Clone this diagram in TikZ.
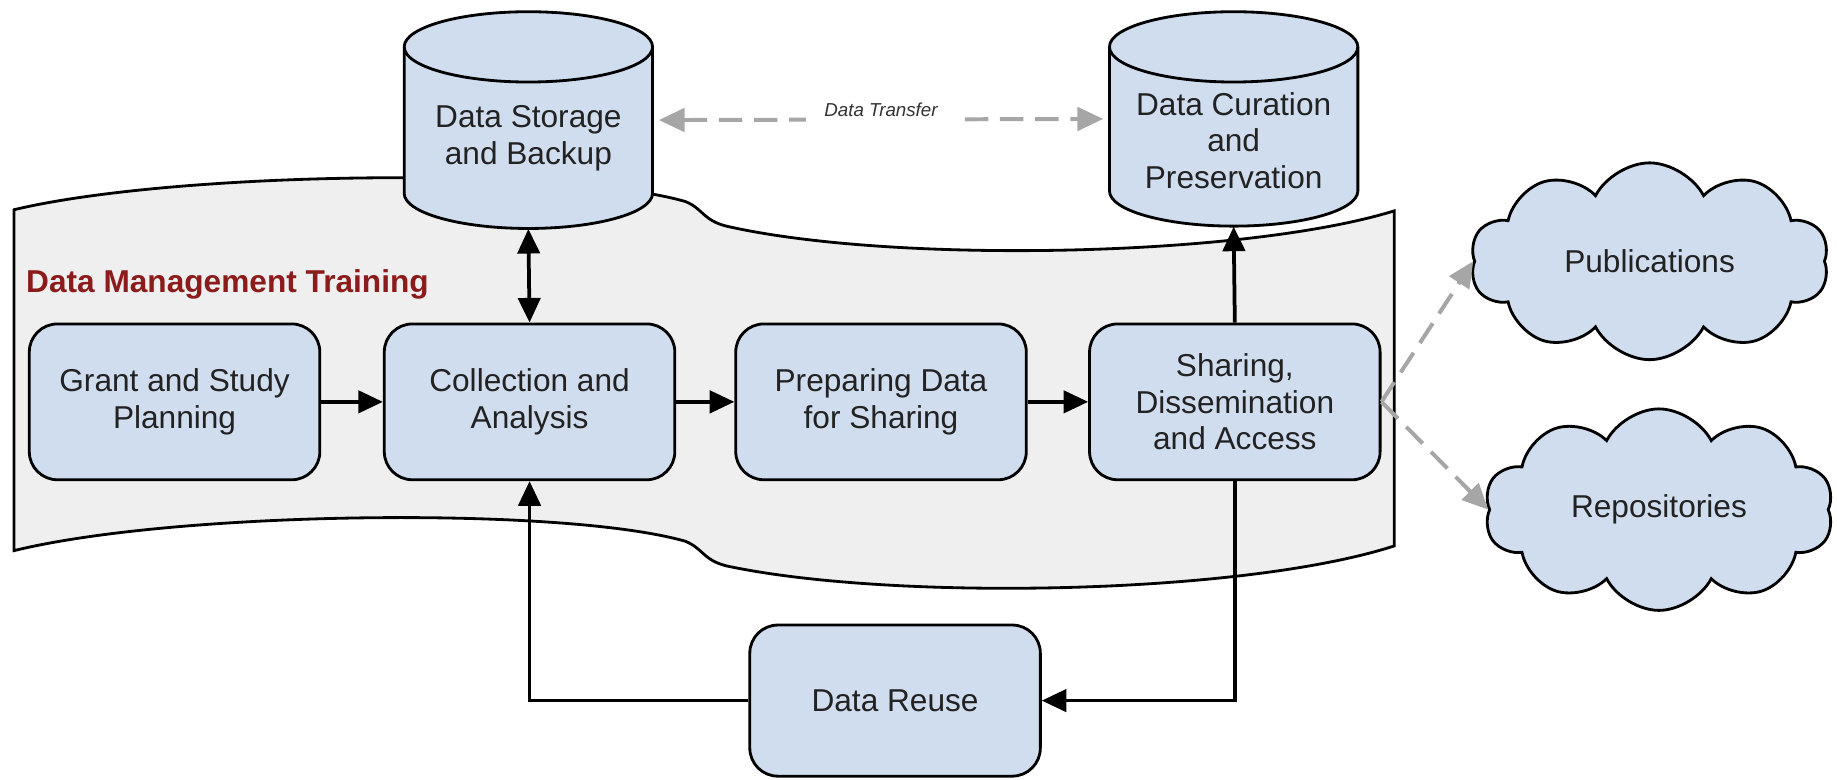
\documentclass[tikz,border=0pt]{standalone}
\usepackage{fontspec}
\setmainfont{Liberation Sans}
\usetikzlibrary{arrows.meta,shapes.symbols,calc}
\definecolor{boxblue}{HTML}{CFDDEE}
\definecolor{bannergray}{HTML}{EFEFEF}
\definecolor{dmtred}{HTML}{8C1C1C}
\definecolor{dashgray}{HTML}{A6A6A6}
\definecolor{txt}{HTML}{222222}
\begin{document}
\begin{tikzpicture}[x=0.5pt,y=-0.5pt,
  stepbox/.style={draw=black, line width=1.2pt, fill=boxblue, rounded corners=12pt,
    minimum width=124pt, minimum height=66.5pt, align=center, inner sep=0pt, text=txt,
    font=\fontsize{13.5}{15.5}\selectfont},
  cylbox/.style={minimum width=106pt, minimum height=92.5pt, inner sep=0pt},
  cyltext/.style={align=center, inner sep=0pt, text=txt, font=\fontsize{13.5}{15.5}\selectfont},
  cylshape/.style={draw=black, line width=1.2pt, fill=boxblue},
  cloudbox/.style={cloud, cloud puffs=10, cloud puff arc=125, aspect=1.9, draw=black,
    line width=1.2pt, fill=boxblue, inner sep=0pt, text=txt, font=\fontsize{13.5}{15.5}\selectfont},
  flow/.style={line width=1.6pt, -{Triangle[length=10.5pt,width=9.5pt]}},
  flowboth/.style={line width=1.6pt, {Triangle[length=10.5pt,width=9.5pt]}-{Triangle[length=10.5pt,width=9.5pt]}},
  grayflow/.style={line width=1.7pt, draw=dashgray, dash pattern=on 10pt off 5pt,
    -{Triangle[length=11pt,width=10pt]}},
  graybothflow/.style={line width=1.7pt, draw=dashgray, dash pattern=on 10pt off 5pt,
    {Triangle[length=11pt,width=10pt]}-{Triangle[length=11pt,width=10pt]}}
]
\useasboundingbox (0,0) rectangle (1568,665);

% banner
\draw[line width=1.2pt, fill=bannergray]
  (12,179) .. controls (150,146) and (480,142) .. (585,172)
  .. controls (600,178) and (600,188) .. (620,193)
  .. controls (760,225) and (1060,220) .. (1190,180)
  -- (1190,466)
  .. controls (1060,508) and (760,513) .. (620,483)
  .. controls (600,478) and (600,468) .. (585,462)
  .. controls (480,432) and (150,436) .. (12,470) -- cycle;

\node[anchor=west, inner sep=0pt, text=dmtred, font=\bfseries\fontsize{13.5}{15}\selectfont]
  (dmt) at (22,243) {Data Management Training};

% cylinders
\draw[cylshape] (345,40) -- (345,165)
  arc[start angle=180, end angle=360, x radius=53pt, y radius=15pt]
  -- (557,40) arc[start angle=0, end angle=180, x radius=53pt, y radius=15pt] -- cycle;
\draw[line width=1.2pt] (345,40) arc[start angle=180, end angle=360, x radius=53pt, y radius=15pt];
\node[cylbox] (dsb) at (451,102.5) {};
\node[cyltext] (dsbtext) at (451,118) {Data Storage\\and Backup};

\draw[cylshape] (947,40) -- (947,163)
  arc[start angle=180, end angle=360, x radius=53pt, y radius=15pt]
  -- (1159,40) arc[start angle=0, end angle=180, x radius=53pt, y radius=15pt] -- cycle;
\draw[line width=1.2pt] (947,40) arc[start angle=180, end angle=360, x radius=53pt, y radius=15pt];
\node[cylbox, minimum height=91.5pt] (dcp) at (1053,101.5) {};
\node[cyltext] (dcptext) at (1053,120) {Data Curation\\and\\Preservation};

% process boxes
\node[stepbox] (grant) at (149,343) {Grant and Study\\Planning};
\node[stepbox] (coll) at (452,343) {Collection and\\Analysis};
\node[stepbox] (prep) at (752,343) {Preparing Data\\for Sharing};
\node[stepbox] (share) at (1054,343) {Sharing,\\Dissemination\\and Access};
\node[stepbox, minimum height=64.5pt] (reuse) at (764,598) {Data Reuse};

% clouds
\node[cloudbox, minimum width=153pt, minimum height=84pt] (pub) at (1408,223) {Publications};
\node[cloudbox, minimum width=149pt, minimum height=86pt] (repo) at (1416,435) {Repositories};

% connectors
\draw[flow] (grant) -- (coll);
\draw[flow] (coll) -- (prep);
\draw[flow] (prep) -- (share);
\draw[flowboth] (dsb.south) -- (coll.north);
\draw[flow] (share.north) -- (dcp.south);
\draw[flow] (share.south) |- (reuse.east);
\draw[flow] (reuse.west) -| (coll.south);

\draw[graybothflow, shorten <=2.5pt, shorten >=2.5pt] (dsb.east) -- (dcp.west)
  node[midway, fill=white, inner xsep=8pt, inner ysep=2pt, yshift=4pt, text=black!80,
       font=\itshape\fontsize{8}{9}\selectfont] (dtl) {Data Transfer};
\draw[grayflow] (share.east) -- (pub.west);
\draw[grayflow] (share.east) -- (repo.west);
\end{tikzpicture}
\end{document}
